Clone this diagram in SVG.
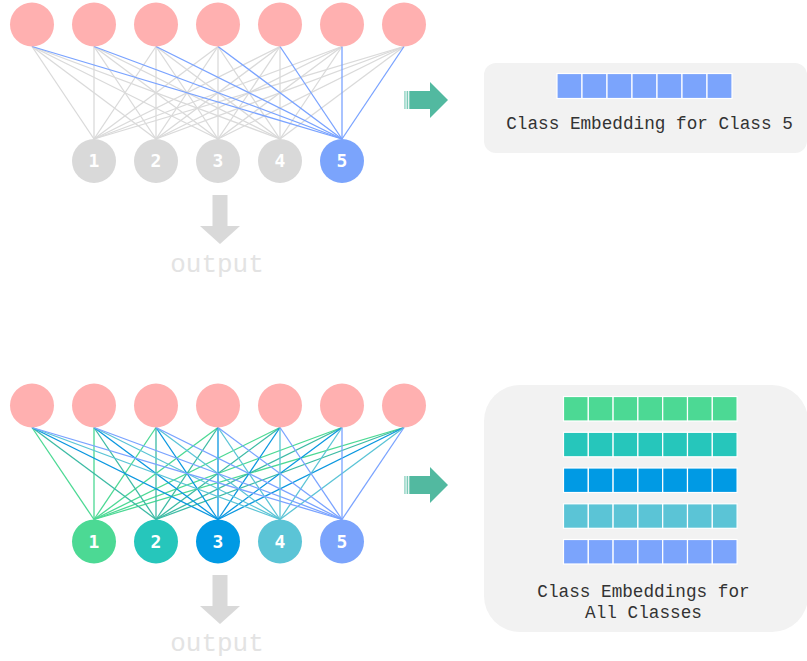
<svg xmlns="http://www.w3.org/2000/svg" width="807" height="661" viewBox="0 0 807 661">
<defs>
<style>
.in{fill:#ffb0b0}
.lbl{font-family:"DejaVu Sans Mono","DejaVu Sans",monospace;font-weight:bold;font-size:18px;fill:#fff;text-anchor:middle}
.cap{font-family:"Liberation Mono","Courier New",monospace;font-size:17.7px;fill:#333;text-anchor:middle}
.out{font-family:"Liberation Mono","Courier New",monospace;font-size:26px;fill:#e3e3e3;text-anchor:middle}
.box{fill:#f2f2f2}
.sq{stroke:#fff;stroke-width:1.2}
.g line{stroke:#dadada;stroke-width:1.3}
.e line{stroke-width:1.3}
.arr{fill:#52b9a0}
.dn{fill:#d9d9d9}
</style>
<g id="rarrow">
<rect x="404" y="-9" width="1.8" height="18" fill="#a9ddd0"/>
<rect x="406.6" y="-9" width="1.6" height="18" fill="#7ecbb8"/>
<rect x="409.3" y="-9" width="21" height="18" class="arr"/>
<polygon points="430,-18 448,0 430,18" class="arr"/>
</g>
<g id="darrow">
<rect x="212.5" y="0" width="15" height="32" class="dn"/>
<polygon points="200,31 240,31 220,49" class="dn"/>
</g>
</defs>

<g id="connectors">
<g id="top-gray" class="g">
<line x1="32" y1="46.5" x2="94" y2="139"/><line x1="32" y1="46.5" x2="156" y2="139"/><line x1="32" y1="46.5" x2="218" y2="139"/><line x1="32" y1="46.5" x2="280" y2="139"/>
<line x1="94" y1="46.5" x2="94" y2="139"/><line x1="94" y1="46.5" x2="156" y2="139"/><line x1="94" y1="46.5" x2="218" y2="139"/><line x1="94" y1="46.5" x2="280" y2="139"/>
<line x1="156" y1="46.5" x2="94" y2="139"/><line x1="156" y1="46.5" x2="156" y2="139"/><line x1="156" y1="46.5" x2="218" y2="139"/><line x1="156" y1="46.5" x2="280" y2="139"/>
<line x1="218" y1="46.5" x2="94" y2="139"/><line x1="218" y1="46.5" x2="156" y2="139"/><line x1="218" y1="46.5" x2="218" y2="139"/><line x1="218" y1="46.5" x2="280" y2="139"/>
<line x1="280" y1="46.5" x2="94" y2="139"/><line x1="280" y1="46.5" x2="156" y2="139"/><line x1="280" y1="46.5" x2="218" y2="139"/><line x1="280" y1="46.5" x2="280" y2="139"/>
<line x1="342" y1="46.5" x2="94" y2="139"/><line x1="342" y1="46.5" x2="156" y2="139"/><line x1="342" y1="46.5" x2="218" y2="139"/><line x1="342" y1="46.5" x2="280" y2="139"/>
<line x1="404" y1="46.5" x2="94" y2="139"/><line x1="404" y1="46.5" x2="156" y2="139"/><line x1="404" y1="46.5" x2="218" y2="139"/><line x1="404" y1="46.5" x2="280" y2="139"/>
</g>
<g id="top-blue" class="e" stroke="#7aa3ff">
<line x1="32" y1="46.5" x2="342" y2="139"/><line x1="94" y1="46.5" x2="342" y2="139"/><line x1="156" y1="46.5" x2="342" y2="139"/><line x1="218" y1="46.5" x2="342" y2="139"/><line x1="280" y1="46.5" x2="342" y2="139"/><line x1="342" y1="46.5" x2="342" y2="139"/><line x1="404" y1="46.5" x2="342" y2="139"/>
</g>
<g id="bot-1" class="e" stroke="#4cd994">
<line x1="32" y1="427.5" x2="94" y2="519.5"/><line x1="94" y1="427.5" x2="94" y2="519.5"/><line x1="156" y1="427.5" x2="94" y2="519.5"/><line x1="218" y1="427.5" x2="94" y2="519.5"/><line x1="280" y1="427.5" x2="94" y2="519.5"/><line x1="342" y1="427.5" x2="94" y2="519.5"/><line x1="404" y1="427.5" x2="94" y2="519.5"/>
</g>
<g id="bot-2" class="e" stroke="#3dbba4">
<line x1="32" y1="427.5" x2="156" y2="519.5"/><line x1="94" y1="427.5" x2="156" y2="519.5"/><line x1="156" y1="427.5" x2="156" y2="519.5"/><line x1="218" y1="427.5" x2="156" y2="519.5"/><line x1="280" y1="427.5" x2="156" y2="519.5"/><line x1="342" y1="427.5" x2="156" y2="519.5"/><line x1="404" y1="427.5" x2="156" y2="519.5"/>
</g>
<g id="bot-3" class="e" stroke="#0a97e0">
<line x1="32" y1="427.5" x2="218" y2="519.5"/><line x1="94" y1="427.5" x2="218" y2="519.5"/><line x1="156" y1="427.5" x2="218" y2="519.5"/><line x1="218" y1="427.5" x2="218" y2="519.5"/><line x1="280" y1="427.5" x2="218" y2="519.5"/><line x1="342" y1="427.5" x2="218" y2="519.5"/><line x1="404" y1="427.5" x2="218" y2="519.5"/>
</g>
<g id="bot-4" class="e" stroke="#5bc4d6">
<line x1="32" y1="427.5" x2="280" y2="519.5"/><line x1="94" y1="427.5" x2="280" y2="519.5"/><line x1="156" y1="427.5" x2="280" y2="519.5"/><line x1="218" y1="427.5" x2="280" y2="519.5"/><line x1="280" y1="427.5" x2="280" y2="519.5"/><line x1="342" y1="427.5" x2="280" y2="519.5"/><line x1="404" y1="427.5" x2="280" y2="519.5"/>
</g>
<g id="bot-5" class="e" stroke="#7aa3ff">
<line x1="32" y1="427.5" x2="342" y2="519.5"/><line x1="94" y1="427.5" x2="342" y2="519.5"/><line x1="156" y1="427.5" x2="342" y2="519.5"/><line x1="218" y1="427.5" x2="342" y2="519.5"/><line x1="280" y1="427.5" x2="342" y2="519.5"/><line x1="342" y1="427.5" x2="342" y2="519.5"/><line x1="404" y1="427.5" x2="342" y2="519.5"/>
</g>
</g>

<g id="top-inputs">
<circle id="ti1" class="in" cx="32" cy="24.5" r="22"/>
<circle id="ti2" class="in" cx="94" cy="24.5" r="22"/>
<circle id="ti3" class="in" cx="156" cy="24.5" r="22"/>
<circle id="ti4" class="in" cx="218" cy="24.5" r="22"/>
<circle id="ti5" class="in" cx="280" cy="24.5" r="22"/>
<circle id="ti6" class="in" cx="342" cy="24.5" r="22"/>
<circle id="ti7" class="in" cx="404" cy="24.5" r="22"/>
</g>
<g id="top-out1"><circle cx="94" cy="161" r="22" fill="#d9d9d9"/><text class="lbl" x="94" y="167">1</text></g>
<g id="top-out2"><circle cx="156" cy="161" r="22" fill="#d9d9d9"/><text class="lbl" x="156" y="167">2</text></g>
<g id="top-out3"><circle cx="218" cy="161" r="22" fill="#d9d9d9"/><text class="lbl" x="218" y="167">3</text></g>
<g id="top-out4"><circle cx="280" cy="161" r="22" fill="#d9d9d9"/><text class="lbl" x="280" y="167">4</text></g>
<g id="top-out5"><circle cx="342" cy="161" r="22" fill="#7ba4fc"/><text class="lbl" x="342" y="167">5</text></g>

<g id="top-down"><use href="#darrow" y="195"/><text class="out" x="217" y="272">output</text></g>
<g id="top-arrow"><use href="#rarrow" y="100"/></g>

<g id="top-box">
<rect class="box" x="484" y="63" width="323" height="90" rx="12"/>
<g class="sq" fill="#7ba4fc">
<rect x="557" y="73.5" width="25" height="25"/><rect x="582" y="73.5" width="25" height="25"/><rect x="607" y="73.5" width="25" height="25"/><rect x="632" y="73.5" width="25" height="25"/><rect x="657" y="73.5" width="25" height="25"/><rect x="682" y="73.5" width="25" height="25"/><rect x="707" y="73.5" width="25" height="25"/>
</g>
<text class="cap" x="649.5" y="129">Class Embedding for Class 5</text>
</g>

<g id="bot-inputs">
<circle id="bi1" class="in" cx="32" cy="405.5" r="22"/>
<circle id="bi2" class="in" cx="94" cy="405.5" r="22"/>
<circle id="bi3" class="in" cx="156" cy="405.5" r="22"/>
<circle id="bi4" class="in" cx="218" cy="405.5" r="22"/>
<circle id="bi5" class="in" cx="280" cy="405.5" r="22"/>
<circle id="bi6" class="in" cx="342" cy="405.5" r="22"/>
<circle id="bi7" class="in" cx="404" cy="405.5" r="22"/>
</g>
<g id="bot-out1"><circle cx="94" cy="541.5" r="22" fill="#4cd994"/><text class="lbl" x="94" y="547.5">1</text></g>
<g id="bot-out2"><circle cx="156" cy="541.5" r="22" fill="#26c6bb"/><text class="lbl" x="156" y="547.5">2</text></g>
<g id="bot-out3"><circle cx="218" cy="541.5" r="22" fill="#009ae4"/><text class="lbl" x="218" y="547.5">3</text></g>
<g id="bot-out4"><circle cx="280" cy="541.5" r="22" fill="#5bc4d6"/><text class="lbl" x="280" y="547.5">4</text></g>
<g id="bot-out5"><circle cx="342" cy="541.5" r="22" fill="#7ba4fc"/><text class="lbl" x="342" y="547.5">5</text></g>

<g id="bot-down"><use href="#darrow" y="575"/><text class="out" x="217" y="651">output</text></g>
<g id="bot-arrow"><use href="#rarrow" y="485"/></g>

<g id="bot-box">
<rect class="box" x="484" y="385" width="324" height="247" rx="36"/>
<g class="sq" fill="#4cd994">
<rect x="563.5" y="396.5" width="24.8" height="24.5"/><rect x="588.3" y="396.5" width="24.8" height="24.5"/><rect x="613.1" y="396.5" width="24.8" height="24.5"/><rect x="637.9" y="396.5" width="24.8" height="24.5"/><rect x="662.7" y="396.5" width="24.8" height="24.5"/><rect x="687.5" y="396.5" width="24.8" height="24.5"/><rect x="712.3" y="396.5" width="24.8" height="24.5"/>
</g>
<g class="sq" fill="#26c6bb">
<rect x="563.5" y="432.3" width="24.8" height="24.5"/><rect x="588.3" y="432.3" width="24.8" height="24.5"/><rect x="613.1" y="432.3" width="24.8" height="24.5"/><rect x="637.9" y="432.3" width="24.8" height="24.5"/><rect x="662.7" y="432.3" width="24.8" height="24.5"/><rect x="687.5" y="432.3" width="24.8" height="24.5"/><rect x="712.3" y="432.3" width="24.8" height="24.5"/>
</g>
<g class="sq" fill="#009ae4">
<rect x="563.5" y="468" width="24.8" height="24.5"/><rect x="588.3" y="468" width="24.8" height="24.5"/><rect x="613.1" y="468" width="24.8" height="24.5"/><rect x="637.9" y="468" width="24.8" height="24.5"/><rect x="662.7" y="468" width="24.8" height="24.5"/><rect x="687.5" y="468" width="24.8" height="24.5"/><rect x="712.3" y="468" width="24.8" height="24.5"/>
</g>
<g class="sq" fill="#5bc4d6">
<rect x="563.5" y="503.8" width="24.8" height="24.5"/><rect x="588.3" y="503.8" width="24.8" height="24.5"/><rect x="613.1" y="503.8" width="24.8" height="24.5"/><rect x="637.9" y="503.8" width="24.8" height="24.5"/><rect x="662.7" y="503.8" width="24.8" height="24.5"/><rect x="687.5" y="503.8" width="24.8" height="24.5"/><rect x="712.3" y="503.8" width="24.8" height="24.5"/>
</g>
<g class="sq" fill="#7ba4fc">
<rect x="563.5" y="539.5" width="24.8" height="24.5"/><rect x="588.3" y="539.5" width="24.8" height="24.5"/><rect x="613.1" y="539.5" width="24.8" height="24.5"/><rect x="637.9" y="539.5" width="24.8" height="24.5"/><rect x="662.7" y="539.5" width="24.8" height="24.5"/><rect x="687.5" y="539.5" width="24.8" height="24.5"/><rect x="712.3" y="539.5" width="24.8" height="24.5"/>
</g>
<text class="cap" x="643.5" y="596.5">Class Embeddings for</text>
<text class="cap" x="643.5" y="617.5">All Classes</text>
</g>
</svg>
